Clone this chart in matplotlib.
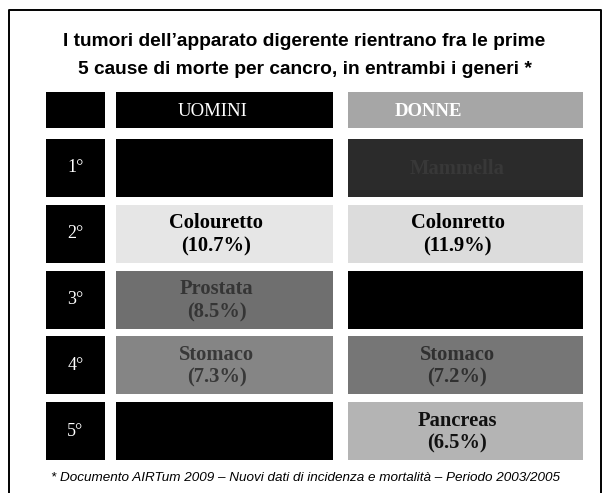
import matplotlib
matplotlib.use("Agg")
import matplotlib.pyplot as plt
from matplotlib.patches import Rectangle

# ---- data ----
title_lines = ["I tumori dell\u2019apparato digerente rientrano fra le prime",
               "5 cause di morte per cancro, in entrambi i generi *"]
columns = ["UOMINI", "DONNE"]
ranks = ["1°", "2°", "3°", "4°", "5°"]
men_sites = ["", "Colouretto", "Prostata", "Stomaco", ""]
men_pct = [None, 10.7, 8.5, 7.3, None]
women_sites = ["Mammella", "Colonretto", "", "Stomaco", "Pancreas"]
women_pct = [None, 11.9, None, 7.2, 6.5]
footnote = "* Documento AIRTum 2009 \u2013 Nuovi dati di incidenza e mortalità \u2013 Periodo 2003/2005"

# ---- styles ----
men_fill = ["#000000", "#e6e6e6", "#6f6f6f", "#858585", "#000000"]
men_text = ["#000000", "#000000", "#353535", "#383838", "#000000"]
women_fill = ["#2b2b2b", "#dcdcdc", "#000000", "#767676", "#b4b4b4"]
women_text = ["#383838", "#000000", "#000000", "#303030", "#111111"]
header_fill = ["#000000", "#a6a6a6"]

W, H = 607, 493
fig = plt.figure(figsize=(W / 100, H / 100), dpi=100)
ax = fig.add_axes([0, 0, 1, 1])
ax.set_xlim(0, W)
ax.set_ylim(H, 0)
ax.axis("off")

# frame
ax.plot([9, 9, 601, 601], [H + 5, 10, 10, H + 5], color="black", lw=1.4)

sans = "Liberation Sans"
serif = "Liberation Serif"

ax.text(W / 2 + 1, 42, title_lines[0], ha="center", va="center",
        fontsize=13.8, fontweight="bold", family=sans)
ax.text(W / 2 + 1, 70, title_lines[1], ha="center", va="center",
        fontsize=13.8, fontweight="bold", family=sans)

# layout
col_x = [(46, 105), (116, 333), (348, 583)]
head_y = (92, 128)
row_top0, row_h, row_step = 139, 58, 65.8

def rect(x0, x1, y0, y1, fc):
    ax.add_patch(Rectangle((x0, y0), x1 - x0, y1 - y0, facecolor=fc, edgecolor="none"))

# header row
rect(col_x[0][0], col_x[0][1], head_y[0], head_y[1], "#000000")
for j, name in enumerate(columns):
    x0, x1 = col_x[j + 1]
    rect(x0, x1, head_y[0], head_y[1], header_fill[j])
    cx = (x0 + x1) / 2 - (12 if j == 0 else 37)
    ax.text(cx, (head_y[0] + head_y[1]) / 2 + 1, name, ha="center", va="center",
            color="white", fontsize=13.5, family=serif, fontweight="bold" if j == 1 else "normal")

# rows
for i, r in enumerate(ranks):
    y0 = row_top0 + i * row_step
    y1 = y0 + row_h
    yc = (y0 + y1) / 2
    rect(col_x[0][0], col_x[0][1], y0, y1, "#000000")
    ax.text((col_x[0][0] + col_x[0][1]) / 2, yc, r, ha="center", va="center",
            color="white", fontsize=13, family=serif)
    for j, (sites, pcts, fills, tcols) in enumerate(
            [(men_sites, men_pct, men_fill, men_text),
             (women_sites, women_pct, women_fill, women_text)]):
        x0, x1 = col_x[j + 1]
        rect(x0, x1, y0, y1, fills[i])
        cx = (x0 + x1) / 2 - 8
        if sites[i]:
            label = sites[i]
            if pcts[i] is not None:
                label += "\n(" + f"{pcts[i]:.1f}%" + ")"
            ax.text(cx, yc + 1, label, ha="center", va="center", color=tcols[i],
                    fontsize=14.8, family=serif, fontweight="bold", linespacing=1.2)

ax.text(W / 2 + 2, 478, footnote, ha="center", va="center", fontsize=9.7,
        style="italic", family=sans)

fig.savefig("out.png", dpi=100)
